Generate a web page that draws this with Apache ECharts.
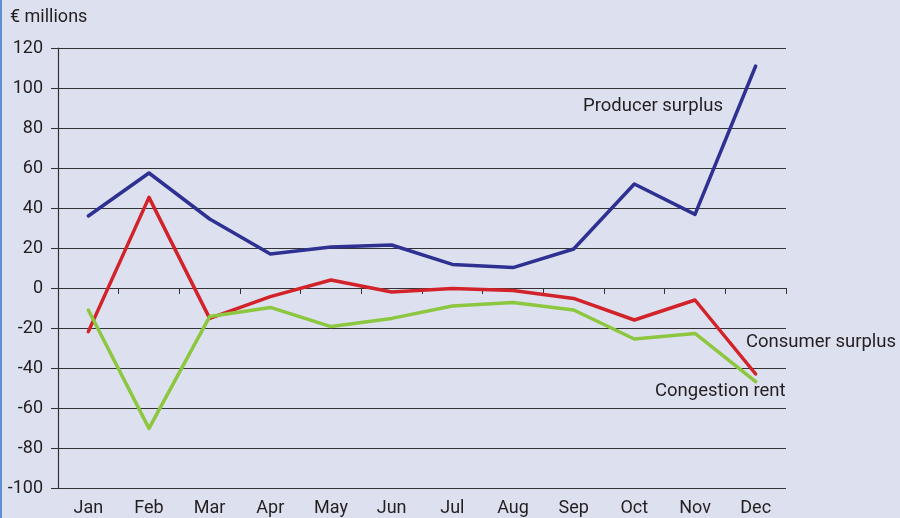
<!DOCTYPE html>
<html>
<head>
<meta charset="utf-8">
<script src="https://cdn.jsdelivr.net/npm/echarts@6/dist/echarts.min.js"></script>
<style>
  html, body { margin: 0; padding: 0; background: #dde1ef; }
  #chart { width: 900px; height: 518px; }
</style>
</head>
<body>
<div id="chart"></div>
<script>
const months = ['Jan', 'Feb', 'Mar', 'Apr', 'May', 'Jun', 'Jul', 'Aug', 'Sep', 'Oct', 'Nov', 'Dec']
const producerSurplus = [36, 57.5, 34.5, 17, 20.5, 21.5, 11.8, 10.2, 19.5, 52, 36.8, 111]
const consumerSurplus = [-21.8, 45.3, -15.2, -4.3, 4, -2, -0.2, -1.3, -5.2, -16, -6, -43]
const congestionRent = [-11, -70.2, -14.3, -9.7, -19.3, -15.2, -9, -7.3, -11, -25.5, -22.7, -46.8]

const TEXT = '#231f20'
const FONT = 'Roboto, "DejaVu Sans", sans-serif'

const chart = echarts.init(document.getElementById('chart'))

function line(name, data, color) {
  return {
    name,
    type: 'line',
    data,
    symbol: 'none',
    lineStyle: { color, width: 3.5, cap: 'round', join: 'round' },
    itemStyle: { color },
    z: 3,
  }
}

chart.setOption({
  backgroundColor: '#dde1ef',
  animation: false,
  textStyle: { fontFamily: FONT, color: TEXT },
  grid: { left: 58, right: 114, top: 48, bottom: 30 },
  xAxis: [
    {
      type: 'category',
      data: months,
      position: 'bottom',
      axisLine: { show: false, onZero: false },
      axisTick: { show: false },
      axisLabel: { color: TEXT, fontSize: 18, margin: 11, fontFamily: FONT },
    },
    {
      type: 'category',
      data: months,
      position: 'top',
      axisLine: { show: true, onZero: true, lineStyle: { color: '#333', width: 1.2 } },
      axisTick: { show: true, inside: true, length: 6, lineStyle: { color: '#333' } },
      axisLabel: { show: false },
    },
  ],
  yAxis: {
    type: 'value',
    min: -100,
    max: 120,
    interval: 20,
    axisLine: { show: true, lineStyle: { color: '#333', width: 1.2 } },
    axisTick: { show: true, length: 7, lineStyle: { color: '#333' } },
    axisLabel: { color: TEXT, fontSize: 18, margin: 15, fontFamily: FONT },
    splitLine: { show: true, lineStyle: { color: '#333', width: 1.2 } },
  },
  graphic: [
    { type: 'rect', left: 0, top: 0, shape: { width: 2, height: 518 }, style: { fill: '#5b8fd0' } },
    { type: 'text', left: 10, top: 8, style: { text: '€ millions', fill: TEXT, font: '18px ' + FONT } },
    { type: 'text', left: 583, top: 97, style: { text: 'Producer surplus', fill: TEXT, font: '18.5px ' + FONT } },
    { type: 'text', left: 746, top: 333, style: { text: 'Consumer surplus', fill: TEXT, font: '18.5px ' + FONT } },
    { type: 'text', left: 655, top: 382, style: { text: 'Congestion rent', fill: TEXT, font: '18.5px ' + FONT } },
  ],
  series: [
    line('Producer surplus', producerSurplus, '#2e3192'),
    line('Consumer surplus', consumerSurplus, '#d2232a'),
    line('Congestion rent', congestionRent, '#8dc63f'),
  ],
})
</script>
</body>
</html>
